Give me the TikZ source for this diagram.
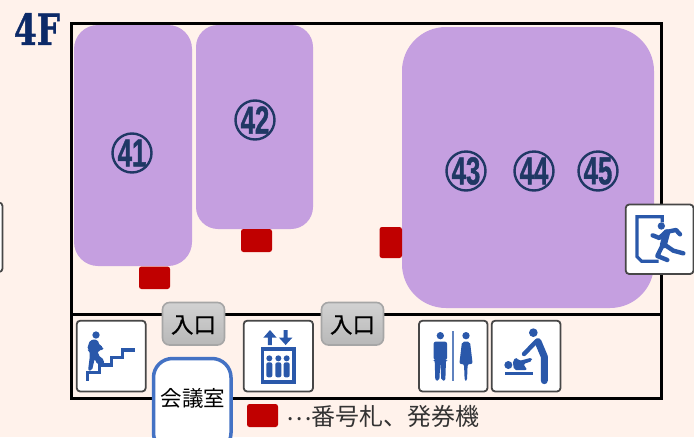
\documentclass[tikz,border=0pt]{standalone}
\usepackage{fontspec}
\setmainfont{Liberation Sans}
\newfontfamily\jpfont{Noto Sans CJK JP}
\newfontfamily\jpmid[FakeBold=0.7]{Noto Sans CJK JP}
\newfontfamily\numfont[FakeBold=1.2]{Liberation Sans Bold}
\newfontfamily\floorfont[FakeBold=1.2]{DejaVu Serif Bold}
\definecolor{bgc}{HTML}{FFF2EB}
\definecolor{roomc}{HTML}{C59FE0}
\definecolor{redc}{HTML}{C00000}
\definecolor{navyc}{HTML}{1F3864}
\definecolor{floorc}{HTML}{0C2A68}
\definecolor{iconc}{HTML}{2A58AA}
\definecolor{meetc}{HTML}{4472C4}
\definecolor{entrytop}{HTML}{D2D2D2}
\definecolor{entrybot}{HTML}{B8B8B8}
\definecolor{entryline}{HTML}{A6A6A6}
\tikzset{
  room/.style={fill=roomc,draw=none},
  tag/.style={fill=redc,draw=none,rounded corners=2.5pt},
  iconbox/.style={fill=white,draw=black!72,line width=1.8pt,rounded corners=3.5pt},
  entryfill/.style={top color=entrytop,bottom color=entrybot,rounded corners=7pt},
  entryedge/.style={draw=entryline,line width=1.6pt,rounded corners=7pt},
  ring/.style={circle,draw=navyc,line width=2.4pt,minimum size=39pt,inner sep=0pt},
  numtext/.style={text=navyc,font=\numfont\fontsize{39}{39}\selectfont,xscale=.66,transform shape,inner sep=0pt},
  jptext/.style={text=black,inner sep=0pt},
  glyph/.style={fill=iconc,draw=none},
  gline/.style={draw=iconc,line width=3.2pt},
  limb/.style={draw=iconc,line width=4.4pt,line cap=round,line join=round},
}
\begin{document}
\begin{tikzpicture}[x=1pt,y=-1pt]
\useasboundingbox (0,0) rectangle (694,437);
\fill[bgc] (0,0) rectangle (694,437);
% frame
\draw[black,line width=3pt] (71,23) rectangle (661,398);
\draw[black,line width=3pt] (71,314.5) -- (661,314.5);
% rooms
\fill[room,rounded corners=24pt] (74,25) rectangle (192,266);
\fill[room,rounded corners=22pt] (196,25) rectangle (313,229);
\fill[room,rounded corners=44pt] (402,27) rectangle (654,308);
% number tags
\fill[tag] (139,266.5) rectangle (170,289);
\fill[tag] (241,229) rectangle (272,252);
\fill[tag] (379.5,227) rectangle (402,258);
\fill[tag] (247,404) rectangle (278,427);
% floor label
\node[text=floorc,font=\floorfont\fontsize{43}{43}\selectfont,xscale=.76,transform shape,inner sep=0pt] (floor) at (37,29) {4F};
% circled numbers
\foreach \nm/\cx/\cy in {41/132/153,42/255/120,43/466/171,44/534/171,45/598/171}{
  \node[ring] (r\nm) at (\cx,\cy) {};
  \node[numtext] (n\nm) at (\cx,\cy) {\nm};
}
% icon boxes
\draw[iconbox] (-20,202.5) rectangle (2.5,272);
\draw[iconbox] (76.7,320.7) rectangle (145.7,391.5);
\draw[iconbox] (243.7,320.7) rectangle (313,391.5);
\draw[iconbox] (419,320.7) rectangle (487.5,391.5);
\draw[iconbox] (491.7,320.7) rectangle (560.5,391.5);
\draw[iconbox] (625.7,204.5) rectangle (693.5,274);
% entries
\shade[entryfill] (162.5,302.5) rectangle (224.5,345);
\draw[entryedge] (162.5,302.5) rectangle (224.5,345);
\shade[entryfill] (321.5,302.5) rectangle (383.5,345);
\draw[entryedge] (321.5,302.5) rectangle (383.5,345);
\node[jptext,font=\jpmid\fontsize{22.5}{22.5}\selectfont] (e1) at (193.5,325) {入口};
\node[jptext,font=\jpmid\fontsize{22.5}{22.5}\selectfont] (e2) at (352.5,325) {入口};
% meeting room
\draw[fill=white,draw=meetc,line width=3.5pt,rounded corners=19pt] (153.5,358.5) rectangle (231,452);
\node[jptext,font=\jpfont\fontsize{21.5}{21.5}\selectfont] (meet) at (193,398.5) {会議室};
% legend
\node[jptext,anchor=west,text=black!80,font=\jpfont\fontsize{24}{24}\selectfont] (legend) at (286,416) {\raisebox{5pt}{⋯}番号札、発券機};
% stairs icon (zoom coordinates)
\begin{scope}[shift={(60,290)},scale=1/3]
  \draw[gline,line join=miter] (83,272) -- (83,247) -- (118,247) -- (118,225) -- (155,225) -- (155,202) -- (188,202) -- (188,180) -- (226,180);
  \fill[glyph] (108,135) circle (11);
  \fill[glyph,rounded corners=2pt] (90,150) -- (112,148) -- (120,168) -- (130,170) -- (130,180) -- (115,180) -- (114,195) -- (133,210) -- (131,224) -- (112,224) -- (104,206) -- (96,242) -- (84,242) -- (90,195) -- (88,182) -- (81,178) -- cycle;
\end{scope}
% elevator icon
\begin{scope}[shift={(60,290)},scale=1/3]
  \fill[glyph] (630,120) -- (650,143) -- (636,143) -- (636,165) -- (624,165) -- (624,143) -- (610,143) -- cycle;
  \fill[glyph] (677,165) -- (697,143) -- (683,143) -- (683,120) -- (671,120) -- (671,143) -- (657,143) -- cycle;
  \draw[gline] (607,177) rectangle (702,276);
  \foreach \px in {628,655,680}{
    \fill[glyph] (\px,205) circle (9);
    \fill[glyph,rounded corners=2pt] (\px-9,217) rectangle (\px+9,262);
  }
\end{scope}
% toilet icon
\begin{scope}[shift={(310,290)},scale=1/3]
  \fill[glyph] (391,137) circle (11);
  \fill[glyph,rounded corners=2pt] (371,155) -- (411,155) -- (411,210) -- (408,210) -- (406,272) -- (394,272) -- (391,215) -- (388,272) -- (376,272) -- (374,210) -- (371,210) -- cycle;
  \fill[iconc!75] (426,124) rectangle (431,272);
  \fill[glyph] (468,137) circle (11);
  \fill[glyph,rounded corners=2pt] (456,155) -- (480,155) -- (488,222) -- (473,222) -- (471,272) -- (464,272) -- (462,222) -- (448,222) -- cycle;
\end{scope}
% baby-care icon
\begin{scope}[shift={(310,290)},scale=1/3]
  \fill[glyph] (670,128) circle (13);
  \draw[limb,line width=7pt] (684,155) -- (703,200) -- (703,272);
  \draw[limb] (680,153) -- (642,192);
  \fill[glyph] (595,225) circle (12);
  \fill[glyph,rounded corners=2pt] (608,212) -- (620,202) -- (626,213) -- (665,203) -- (667,213) -- (640,222) -- (652,240) -- (612,240) -- cycle;
  \fill[glyph] (584,245) rectangle (668,256);
\end{scope}
% exit icon
\begin{scope}[shift={(610,190)},scale=1/3]
  \draw[gline] (157,97) -- (157,80) -- (81,80) -- (81,200) -- (95,214) -- (146,214);
  \fill[glyph] (154,108) circle (11);
  \draw[limb] (128,136) -- (148,144) -- (168,126) -- (198,120) -- (210,133);
  \draw[limb,line width=7pt] (170,128) -- (160,165);
  \draw[limb] (165,165) -- (190,182) -- (220,190);
  \draw[limb] (158,165) -- (142,198) -- (172,210);
\end{scope}
\end{tikzpicture}
\end{document}
